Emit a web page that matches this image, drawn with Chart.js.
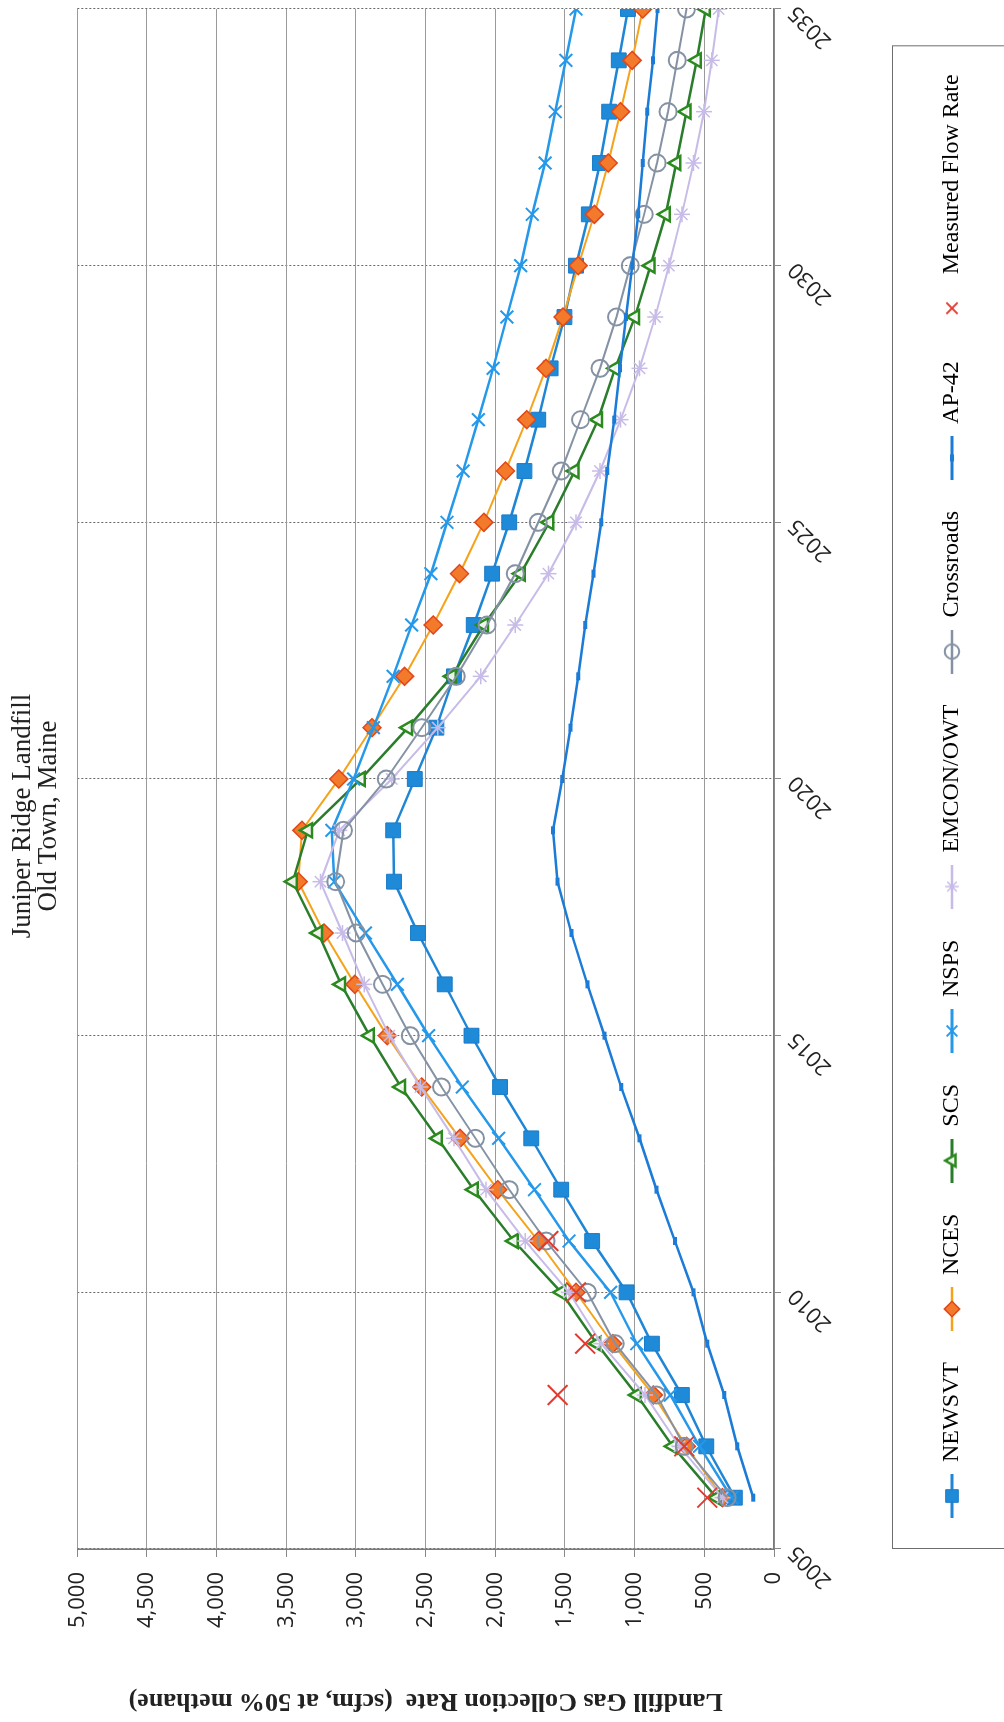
<!DOCTYPE html>
<html>
<head>
<meta charset="utf-8">
<script src="https://cdn.jsdelivr.net/npm/chart.js@4.4.1/dist/chart.umd.min.js"></script>
<style>
html, body { margin: 0; padding: 0; background: #fff; overflow: hidden; width: 1004px; height: 1722px; }
#rot { position: absolute; left: 0; top: 0; width: 1812px; height: 1004px; transform-origin: 0 0; transform: translate(0, 1722px) rotate(-90deg); }
canvas { display: block; }
</style>
</head>
<body>
<div id="rot"><canvas id="c" width="1812" height="1004"></canvas></div>
<script>
// ---- data ----
const chartTitle = ['Juniper Ridge Landfill', 'Old Town, Maine'];
const yAxisTitle = 'Landfill Gas Collection Rate  (scfm, at 50% methane)';
const years = [2006, 2007, 2008, 2009, 2010, 2011, 2012, 2013, 2014, 2015,
               2016, 2017, 2018, 2019, 2020, 2021, 2022, 2023, 2024, 2025,
               2026, 2027, 2028, 2029, 2030, 2031, 2032, 2033, 2034, 2035];
const newsvt = [281, 486, 661, 876, 1058, 1305, 1527, 1742, 1966, 2171,
                2363, 2555, 2727, 2733, 2578, 2423, 2297, 2155, 2023, 1900,
                1791, 1692, 1603, 1504, 1421, 1329, 1249, 1183, 1114, 1048];
const nces = [370, 628, 866, 1157, 1421, 1692, 1983, 2254, 2528, 2776,
              3008, 3229, 3414, 3388, 3123, 2885, 2651, 2446, 2257, 2082,
              1927, 1775, 1636, 1514, 1405, 1289, 1190, 1101, 1018, 942];
const scs = [413, 727, 985, 1272, 1527, 1867, 2155, 2413, 2677, 2902,
             3107, 3272, 3454, 3345, 2965, 2627, 2313, 2082, 1818, 1613,
             1431, 1263, 1140, 998, 886, 777, 701, 628, 555, 489];
const nsps = [304, 535, 744, 985, 1173, 1471, 1719, 1976, 2237, 2479,
              2703, 2932, 3156, 3173, 3017, 2875, 2733, 2601, 2462, 2347,
              2231, 2122, 2016, 1917, 1818, 1735, 1643, 1570, 1494, 1421];
const emcon = [370, 678, 925, 1239, 1471, 1785, 2066, 2297, 2538, 2760,
               2941, 3097, 3255, 3120, 2743, 2413, 2105, 1857, 1619, 1421,
               1249, 1101, 965, 853, 754, 661, 578, 502, 446, 397];
const crossroads = [337, 644, 843, 1140, 1339, 1636, 1900, 2142, 2386, 2611,
                    2809, 2998, 3146, 3090, 2783, 2528, 2280, 2059, 1857, 1692,
                    1527, 1388, 1249, 1130, 1031, 932, 839, 760, 694, 628];
const ap42 = [149, 264, 357, 479, 578, 711, 843, 965, 1097, 1216,
              1339, 1454, 1553, 1586, 1520, 1461, 1405, 1355, 1296, 1239,
              1196, 1147, 1105, 1062, 1018, 975, 942, 909, 869, 836];
const measuredYears = [2006, 2007, 2008, 2009, 2010, 2011];
const measured = [479, 644, 1553, 1355, 1421, 1619];

const xMin = 2005, xMax = 2035, xStep = 5;
const yMin = 0, yMax = 5000, yStep = 500;

// ---- helpers ----
const pts = (xs, ys) => xs.map((x, i) => ({ x: x, y: ys[i] }));

const styles = [
  { label: 'NEWSVT', data: pts(years, newsvt), line: '#1f86d6', lw: 2.5, ps: 'rect', r: 10.5, fill: '#1e8ad8', stroke: '#1a7cc8', bw: 1 },
  { label: 'NCES', data: pts(years, nces), line: '#f6a31c', lw: 2, ps: 'rectRot', r: 9, fill: '#f27a2a', stroke: '#e0481c', bw: 1.5 },
  { label: 'SCS', data: pts(years, scs), line: '#2a7d2a', lw: 2.5, ps: 'triangle', r: 8, fill: 'rgba(255,255,255,0.9)', stroke: '#2a8a1e', bw: 2.5 },
  { label: 'NSPS', data: pts(years, nsps), line: '#2598ea', lw: 2.5, ps: 'crossRot', r: 9, fill: '#2598ea', stroke: '#2598ea', bw: 2 },
  { label: 'EMCON/OWT', data: pts(years, emcon), line: '#c7bbe8', lw: 2, ps: 'star', r: 8, fill: '#c7bbe8', stroke: '#c7bbe8', bw: 1.5 },
  { label: 'Crossroads', data: pts(years, crossroads), line: '#8592a4', lw: 2, ps: 'circle', r: 8.5, fill: 'rgba(255,255,255,0)', stroke: '#8592a4', bw: 2 },
  { label: 'AP-42', data: pts(years, ap42), line: '#1b7bd6', lw: 2.5, ps: 'line', r: 4, fill: '#1b7bd6', stroke: '#1b7bd6', bw: 4 },
  { label: 'Measured Flow Rate', data: pts(measuredYears, measured), line: null, lw: 0, ps: 'crossRot', r: 14, fill: '#e53a2e', stroke: '#e53a2e', bw: 2 }
];

const datasets = styles.map((s, i) => ({
  label: s.label,
  data: s.data,
  showLine: s.line !== null,
  borderColor: s.line || s.stroke,
  borderWidth: s.lw,
  tension: 0,
  fill: false,
  pointStyle: s.ps,
  pointRadius: s.r,
  pointHoverRadius: s.r,
  pointBackgroundColor: s.fill,
  pointBorderColor: s.stroke,
  pointBorderWidth: s.bw,
  order: -i
}));

function legendIcon(s) {
  const cv = document.createElement('canvas');
  cv.width = 44; cv.height = 24;
  const ctx = cv.getContext('2d');
  if (s.line) {
    ctx.strokeStyle = s.line; ctx.lineWidth = s.lw + 0.5;
    ctx.beginPath(); ctx.moveTo(0, 12); ctx.lineTo(44, 12); ctx.stroke();
  }
  ctx.fillStyle = s.fill; ctx.strokeStyle = s.stroke; ctx.lineWidth = s.bw;
  Chart.helpers.drawPoint(ctx, { pointStyle: s.ps, radius: s.line ? s.r * 0.85 : 8, borderWidth: s.bw, rotation: 0 }, 22, 12);
  return cv;
}
const icons = styles.map(legendIcon);

const legendBox = {
  id: 'legendBox',
  afterDraw(chart) {
    const lg = chart.legend;
    const hb = lg.legendHitBoxes;
    if (!hb || !hb.length) return;
    const last = hb[hb.length - 1];
    const left = chart.chartArea.left;
    const right = last.left + last.width + 28;
    const top = lg.top - 17;
    const ctx = chart.ctx;
    ctx.save();
    ctx.strokeStyle = '#6d6d6d';
    ctx.lineWidth = 1;
    ctx.strokeRect(left + 0.5, top + 0.5, right - left, chart.height - top + 20);
    ctx.restore();
  }
};

new Chart(document.getElementById('c'), {
  type: 'line',
  data: { datasets: datasets },
  plugins: [legendBox],
  options: {
    responsive: false,
    animation: false,
    layout: { padding: { left: 0, right: 0, top: 0, bottom: 30 } },
    plugins: {
      title: {
        display: true,
        text: chartTitle,
        color: '#222',
        font: { family: 'Liberation Serif', size: 27, weight: 'normal', lineHeight: 0.95 },
        padding: { top: 10, bottom: 16 }
      },
      legend: {
        display: true,
        position: 'bottom',
        align: 'start',
        fullSize: false,
        labels: {
          usePointStyle: true,
          pointStyleWidth: 44,
          padding: 31,
          color: '#222',
          font: { family: 'Liberation Serif', size: 24 },
          generateLabels: () => styles.map((s, i) => ({
            text: s.label,
            pointStyle: icons[i],
            fillStyle: s.fill,
            strokeStyle: s.stroke,
            lineWidth: 0,
            hidden: false,
            datasetIndex: i
          }))
        }
      },
      tooltip: { enabled: false }
    },
    scales: {
      x: {
        type: 'linear',
        min: xMin, max: xMax,
        afterFit: (sc) => { sc.height = 135; },
        ticks: {
          stepSize: xStep,
          color: '#222',
          padding: 2,
          font: { family: 'Open Sans', size: 22 },
          callback: (v) => String(v),
          maxRotation: 45, minRotation: 45
        },
        grid: { color: '#6a6a6a', lineWidth: 1, tickLength: 7, tickColor: '#888' },
        border: { color: '#7a7a7a', width: 1.5, dash: [2, 2] }
      },
      y: {
        min: yMin, max: yMax,
        afterFit: (sc) => { sc.width = 173; },
        ticks: {
          stepSize: yStep,
          color: '#222',
          padding: 15,
          font: { family: 'Open Sans', size: 22 },
          callback: (v) => v.toLocaleString('en-US')
        },
        grid: { color: '#9a9a9a', lineWidth: 1, tickLength: 8, tickColor: '#888' },
        border: { color: '#7a7a7a', width: 1.5 },
        title: {
          display: true,
          text: yAxisTitle,
          color: '#222',
          font: { family: 'Liberation Serif', size: 26, weight: 'bold' },
          padding: { top: 6, bottom: 0 }
        }
      },
      spacer: {
        type: 'linear',
        position: 'right',
        min: yMin, max: yMax,
        afterFit: (sc) => { sc.width = 99; },
        ticks: { display: false },
        grid: { display: false, drawOnChartArea: false },
        border: { display: false }
      }
    }
  }
});
</script>
</body>
</html>
